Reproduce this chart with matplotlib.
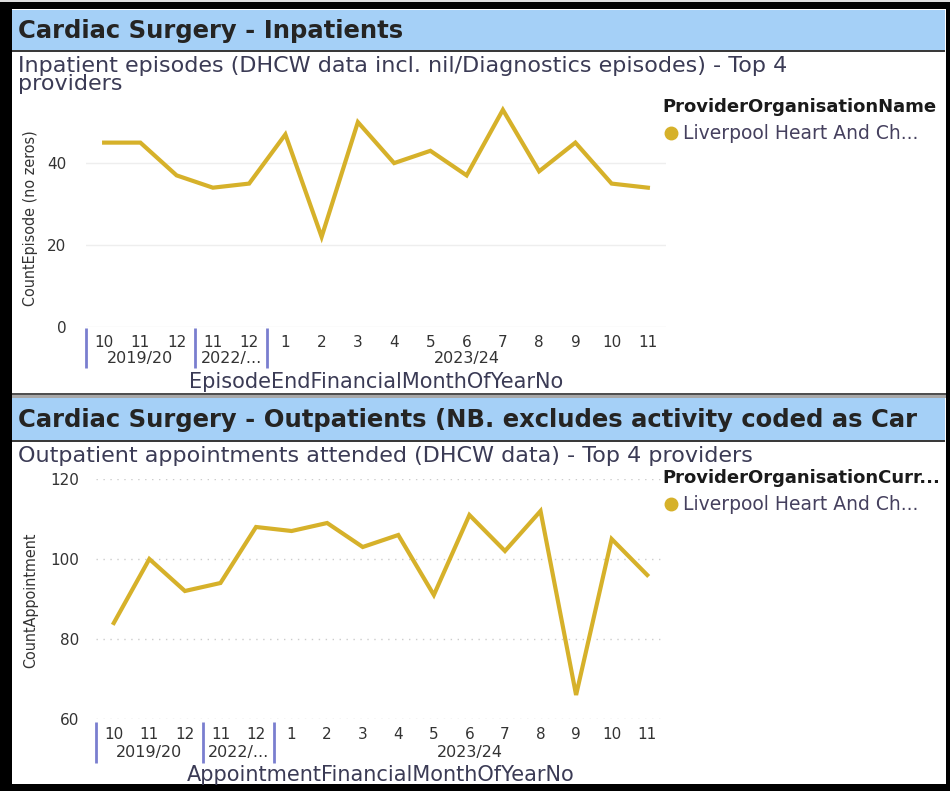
import matplotlib
matplotlib.use("Agg")
import matplotlib.pyplot as plt
from matplotlib.patches import Rectangle
from matplotlib.lines import Line2D

# ---------------- data ----------------
month_labels = ["10", "11", "12", "11", "12", "1", "2", "3", "4", "5", "6", "7", "8", "9", "10", "11"]
year_groups = ["2019/20", "2022/...", "2023/24"]
group_sizes = [3, 2, 11]

inpatient_episodes = [45, 45, 37, 34, 35, 47, 22, 50, 40, 43, 37, 53, 38, 45, 35, 34]
outpatient_appointments = [84, 100, 92, 94, 108, 107, 109, 103, 106, 91, 111, 102, 112, 66, 105, 96]

series_name = "Liverpool Heart And Ch..."
top_title = "Cardiac Surgery - Inpatients"
top_subtitle = "Inpatient episodes (DHCW data incl. nil/Diagnostics episodes) - Top 4\nproviders"
top_ylabel = "CountEpisode (no zeros)"
top_xlabel = "EpisodeEndFinancialMonthOfYearNo"
top_legend_title = "ProviderOrganisationName"
top_yticks = [0, 20, 40]

bot_title = "Cardiac Surgery - Outpatients (NB. excludes activity coded as Car"
bot_subtitle = "Outpatient appointments attended (DHCW data) - Top 4 providers"
bot_ylabel = "CountAppointment"
bot_xlabel = "AppointmentFinancialMonthOfYearNo"
bot_legend_title = "ProviderOrganisationCurr..."
bot_yticks = [60, 80, 100, 120]

# ---------------- style ----------------
W, H = 950, 791
GOLD = "#d6b12a"
HEADER = "#a5d0f7"
TXT = "#252423"
SUB = "#3b3b55"
SEP = "#7a7ecf"
FONT = "DejaVu Sans"

def fx(px):
    return px / W

def fy(py):
    return 1 - py / H

fig = plt.figure(figsize=(W / 100, H / 100), dpi=100, facecolor="black")

# content background
fig.add_artist(Rectangle((fx(12), fy(784)), fx(946) - fx(12), fy(9) - fy(784),
                         transform=fig.transFigure, facecolor="white", edgecolor="none", zorder=0))
fig.add_artist(Rectangle((0, fy(1.5)), 1, fy(0) - fy(1.5), transform=fig.transFigure,
                         facecolor="#dddddd", edgecolor="none", zorder=0))


def header(y0, y1, text):
    rect = Rectangle((fx(12), fy(y1)), fx(945) - fx(12), fy(y0) - fy(y1),
                     transform=fig.transFigure, facecolor=HEADER, edgecolor="none", zorder=1)
    fig.add_artist(rect)
    fig.add_artist(Rectangle((fx(12), fy(y1 + 2)), fx(945) - fx(12), fy(y1) - fy(y1 + 2),
                             transform=fig.transFigure, facecolor="#3a3a3a", edgecolor="none", zorder=2))
    fig.text(fx(18), fy((y0 + y1) / 2 + 1), text, fontsize=17.5, fontweight="bold",
             color=TXT, family=FONT, va="center", ha="left", zorder=3)


header(10, 50, top_title)
# separator between panels
fig.add_artist(Rectangle((fx(12), fy(398)), fx(946) - fx(12), fy(393) - fy(398),
                         transform=fig.transFigure, facecolor="#a8a8a8", edgecolor="none", zorder=1))
fig.add_artist(Rectangle((fx(12), fy(395)), fx(946) - fx(12), fy(393) - fy(395),
                         transform=fig.transFigure, facecolor="#505050", edgecolor="none", zorder=1))
header(398, 440, bot_title)

fig.text(fx(18), fy(75), top_subtitle, fontsize=16, color=SUB, family=FONT,
         va="center", ha="left", linespacing=0.92)
fig.text(fx(18), fy(456), bot_subtitle, fontsize=16, color=SUB, family=FONT,
         va="center", ha="left")


def panel(rect_px, values, ylim, yticks, grid_style, ylabel, xlabel, legend_title, legend_xy,
          ylabel_pos, year_y, xlabel_y, sep_y, tick_pad):
    l, t, r, b = rect_px
    ax = fig.add_axes([fx(l), fy(b), (r - l) / W, (b - t) / H])
    x = list(range(len(values)))
    ax.plot(x, values, color=GOLD, lw=3, solid_joinstyle="miter", label=series_name, zorder=3)
    ax.set_xlim(-0.5, len(values) - 0.5)
    ax.set_ylim(*ylim)
    ax.set_yticks(yticks)
    ax.set_yticklabels([str(v) for v in yticks])
    ax.set_xticks(x)
    ax.set_xticklabels(month_labels)
    for s in ax.spines.values():
        s.set_visible(False)
    ax.tick_params(axis="both", length=0, labelsize=11, labelcolor="#333333")
    ax.tick_params(axis="y", pad=tick_pad)
    ax.tick_params(axis="x", pad=6)
    ax.yaxis.grid(True, **grid_style)
    ax.set_axisbelow(True)
    for lab in ax.get_xticklabels() + ax.get_yticklabels():
        lab.set_family(FONT)

    # hierarchical year labels and separators
    start = 0
    bounds = [-0.5]
    for name, n in zip(year_groups, group_sizes):
        centre = start + (n - 1) / 2
        ax.text(centre, year_y, name, transform=ax.get_xaxis_transform(), ha="center",
                va="center", fontsize=11.5, color="#333333", family=FONT)
        start += n
        bounds.append(start - 0.5)
    for bx in bounds[:-1]:
        ax.plot([bx, bx], sep_y, transform=ax.get_xaxis_transform(), color=SEP, lw=2,
                clip_on=False, solid_capstyle="butt")

    ax.text(0.5, xlabel_y, xlabel, transform=ax.transAxes, ha="center", va="center",
            fontsize=15, color=SUB, family=FONT)
    fig.text(fx(ylabel_pos[0]), fy(ylabel_pos[1]), ylabel, rotation=90, ha="center", va="center",
             fontsize=11.5, color="#333333", family=FONT, fontstretch="condensed")

    handle = Line2D([], [], marker="o", ls="none", color=GOLD, markersize=9)
    leg = ax.legend(handles=[handle], labels=[series_name], title=legend_title,
                    loc="upper left", bbox_to_anchor=(fx(legend_xy[0]), fy(legend_xy[1])),
                    bbox_transform=fig.transFigure, frameon=False, alignment="left",
                    handletextpad=0.1, borderpad=0, borderaxespad=0, handlelength=1.0,
                    labelspacing=0.2, fontsize=13.5,
                    title_fontproperties={"weight": "bold", "size": 13, "family": FONT})
    leg._legend_box.sep = 6
    leg.get_title().set_color("#1a1a1a")
    for tx in leg.get_texts():
        tx.set_color("#45405e")
        tx.set_family(FONT)
    return ax


panel((86, 100, 666, 327), inpatient_episodes, (0, 55.4), top_yticks,
      dict(color="#eeeeee", lw=1, ls="-"), top_ylabel, top_xlabel, top_legend_title, (662, 98),
      (31, 218), -0.1366, -0.242, (-0.004, -0.18), 14)

panel((96, 479, 665, 719), outpatient_appointments, (60, 120), bot_yticks,
      dict(color="#cccccc", lw=1, ls=(0, (1, 4))), bot_ylabel, bot_xlabel, bot_legend_title, (662, 469),
      (31, 600), -0.1375, -0.233, (-0.0125, -0.183), 12)

fig.savefig("out.png", dpi=100, facecolor=fig.get_facecolor())
